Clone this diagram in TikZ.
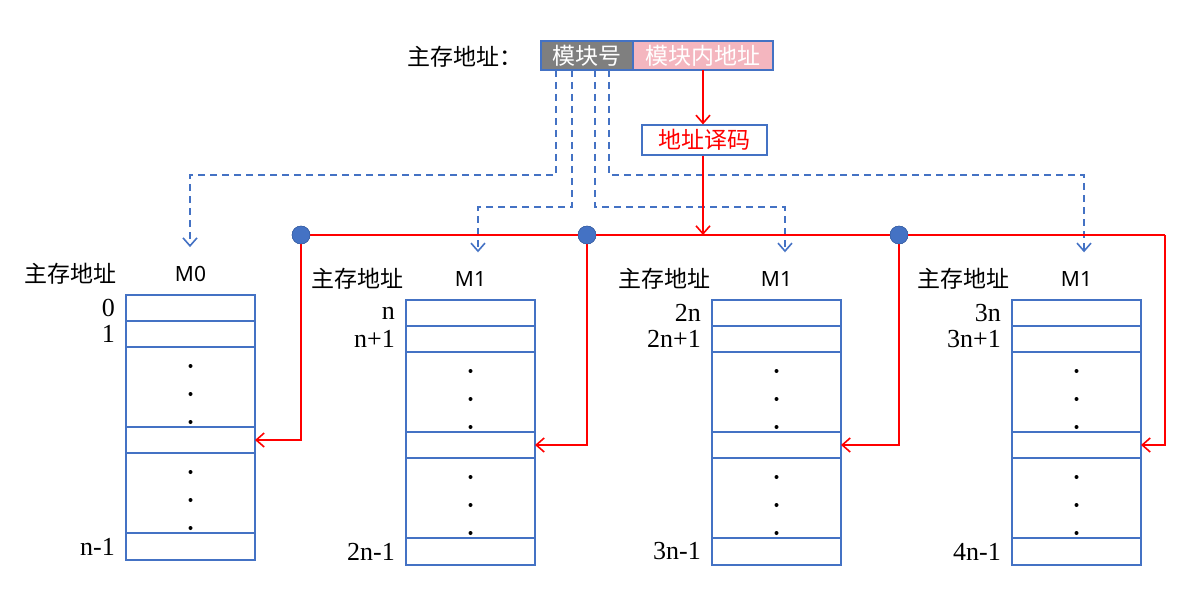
\documentclass[tikz,border=0pt]{standalone}
\usepackage{fontspec}
\setmainfont{Liberation Serif}
\newfontfamily\cjk{Noto Sans CJK SC}
\newfontfamily\latinsans{Noto Sans}
\usetikzlibrary{arrows.meta}
\definecolor{mblue}{HTML}{4472C4}
\definecolor{mred}{HTML}{FF0000}
\definecolor{mgray}{HTML}{7F7F7F}
\definecolor{mpink}{HTML}{F4B6BF}
\begin{document}
\begin{tikzpicture}[x=1pt,y=-1pt,
  cell/.style={draw=mblue,line width=1.2pt,minimum width=129pt,inner sep=0pt,outer sep=0pt,anchor=north west},
  cjktext/.style={font=\cjk\fontsize{23}{26}\selectfont,inner sep=0pt},
  mlabel/.style={font=\latinsans\fontsize{21}{24}\selectfont,inner sep=0pt},
  numlabel/.style={font=\fontsize{26}{28}\selectfont,inner sep=0pt,anchor=east},
  fieldbox/.style={draw=mblue,line width=1.2pt,text=white,font=\cjk\fontsize{23}{26}\selectfont,minimum height=29pt,inner sep=0pt,outer sep=0pt,anchor=west},
  selline/.style={draw=mblue,line width=1.6pt,dash pattern=on 7pt off 5pt},
  busline/.style={draw=mred,line width=1.8pt},
  tip/.style={-{Straight Barb[length=8pt,width=14pt,line width=1.6pt]}},
  junction/.style={circle,fill=mblue,draw=mblue!80!black,line width=0.4pt,minimum size=18pt,inner sep=0pt}]
\useasboundingbox (0,0) rectangle (1182,596);

% address format
\node[cjktext] (hdr) at (465,57) {主存地址：};
\node[fieldbox,fill=mgray,minimum width=92pt] (mod) at (541,55.5) {模块号};
\node[fieldbox,fill=mpink,minimum width=140pt] (off) at (mod.east) {模块内地址};
\node[draw=mblue,line width=1.2pt,minimum width=125pt,minimum height=30pt,inner sep=0pt,
      font=\cjk\fontsize{23}{26}\selectfont,text=mred] (dec) at (704.5,140) {地址译码};

% memory banks
\foreach \b/\x/\y/\m/\la/\lb/\lc/\hx in
  {0/126/295/M0/0/1/n-1/70,
   1/406/300/M1/n/n+1/2n-1/357,
   2/712/300/M1/2n/2n+1/3n-1/664,
   3/1012/300/M1/3n/3n+1/4n-1/963}{
  \node[cell,minimum height=26pt] (b\b r1) at (\x,\y) {};
  \node[cell,minimum height=26pt] (b\b r2) at (b\b r1.south west) {};
  \node[cell,minimum height=80pt] (b\b r3) at (b\b r2.south west) {};
  \node[cell,minimum height=26pt] (b\b r4) at (b\b r3.south west) {};
  \node[cell,minimum height=80pt] (b\b r5) at (b\b r4.south west) {};
  \node[cell,minimum height=27pt] (b\b r6) at (b\b r5.south west) {};
  \foreach \d in {-21,7,35}{
    \fill ([yshift=-\d pt]b\b r3.center) circle (2pt);
    \fill ([yshift=-\d pt]b\b r5.center) circle (2pt);
  }
  \node[mlabel] (m\b) at ([yshift=21pt]b\b r1.north) {\m};
  \node[cjktext] (h\b) at (\hx,0 |- m\b) {主存地址};
  \node[numlabel] (l\b a) at ([xshift=-11pt]b\b r1.west) {\la};
  \node[numlabel] (l\b b) at ([xshift=-11pt]b\b r2.west) {\lb};
  \node[numlabel] (l\b c) at ([xshift=-11pt]b\b r6.west) {\lc};
  \coordinate (in\b) at ([yshift=19pt]m\b.north);
}

% module select lines
\coordinate (k0) at (190,175);
\coordinate (k1) at (478,207);
\coordinate (k2) at (785,207);
\coordinate (k3) at (1084,175);
\draw[selline,tip] ([xshift=15pt]mod.south west) |- (k0) -- (in0 -| k0);
\draw[selline,tip] ([xshift=31pt]mod.south west) |- (k1) -- (in1 -| k1);
\draw[selline,tip] ([xshift=54pt]mod.south west) |- (k2) -- (in2 -| k2);
\draw[selline,tip] ([xshift=68pt]mod.south west) |- (k3) -- (in3 -| k3);

% in-module address bus
\coordinate (bus) at (703,235);
\coordinate (busend) at (1165,235);
\node[junction] (j0) at (301,235) {};
\node[junction] (j1) at (587,235) {};
\node[junction] (j2) at (899,235) {};
\draw[busline,tip] (off.south) -- (off.south |- dec.north);
\draw[busline] (j0.center) -- (busend);
\draw[busline,tip] (dec.south -| off.south) -- (bus -| off.south);
\draw[busline,tip] (j0.center) |- (b0r4.east);
\draw[busline,tip] (j1.center) |- (b1r4.east);
\draw[busline,tip] (j2.center) |- (b2r4.east);
\draw[busline,tip] (busend) |- (b3r4.east);
\node[junction] at (j0) {};
\node[junction] at (j1) {};
\node[junction] at (j2) {};
\end{tikzpicture}
\end{document}
